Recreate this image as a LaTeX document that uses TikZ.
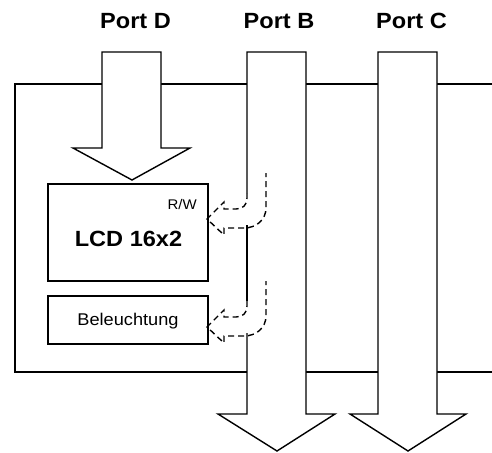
\documentclass[tikz,border=0pt]{standalone}
\usepackage{fontspec}
\setmainfont[FakeStretch=1.07]{Liberation Sans}
\begin{document}
\begin{tikzpicture}[x=1pt,y=-1pt,
  line width=1.4pt, line join=miter,
  box/.style={draw, line width=1.4pt, minimum width=160pt, inner sep=0pt},
  portlabel/.style={anchor=base, font=\fontsize{22}{26}\selectfont\bfseries, inner sep=0pt},
  blockarrow/.style={fill=white, draw},
  dasharrow/.style={draw, dash pattern=on 6pt off 4pt},
]
\useasboundingbox (0,0) rectangle (492,452);
% frame
\draw (492,84) -- (15,84) -- (15,372) -- (492,372);
% Port D arrow
\path[blockarrow] (102,52) -- (161,52) -- (161,148) -- (190,148) -- (132,180) -- (73,148) -- (102,148) -- cycle;
% Port B arrow (left edge broken where the branches leave)
\fill[white] (247,52) -- (306,52) -- (306,414) -- (335,414) -- (277,451) -- (218,414) -- (247,414) -- cycle;
\draw (247,193) -- (247,52) -- (306,52) -- (306,414) -- (335,414) -- (277,451) -- (218,414) -- (247,414) -- (247,333);
\draw (247,225) -- (247,301);
% Port C arrow
\path[blockarrow] (378,52) -- (437,52) -- (437,414) -- (466,414) -- (408,451) -- (350,414) -- (378,414) -- cycle;
% boxes
\node[box, minimum height=97pt] (lcd) at (128,232.5) {};
\node[box, minimum height=48pt] (bel) at (128,320) {};
% texts
\node[portlabel] (pd) at (135.5,28.5) {Port D};
\node[portlabel] (pb) at (279,28.5) {Port B};
\node[portlabel] (pc) at (411.5,28.5) {Port C};
\node[anchor=base, inner sep=0pt, font=\fontsize{22}{26}\selectfont\bfseries] (lcdt) at (128.5,246.5) {LCD 16x2};
\node[anchor=base east, inner sep=0pt, font=\fontsize{14}{16}\selectfont] (rw) at (197.5,209) {R/W};
\node[anchor=base, inner sep=0pt, font=\fontsize{17}{20}\selectfont] (belt) at (128,325.5) {Beleuchtung};
% dashed bent arrows
\foreach \dy in {0,108}{
  \draw[dasharrow] (247,193+\dy) -- (247,198+\dy)
    .. controls (247,205+\dy) and (243,209+\dy) .. (236,209+\dy)
    -- (224,209+\dy) -- (224,202+\dy) -- (207,219+\dy) -- (224,235+\dy) -- (224,228+\dy)
    -- (244,228+\dy) .. controls (256,228+\dy) and (266,220+\dy) .. (266,208+\dy)
    -- (266,173+\dy);
}
\end{tikzpicture}
\end{document}
